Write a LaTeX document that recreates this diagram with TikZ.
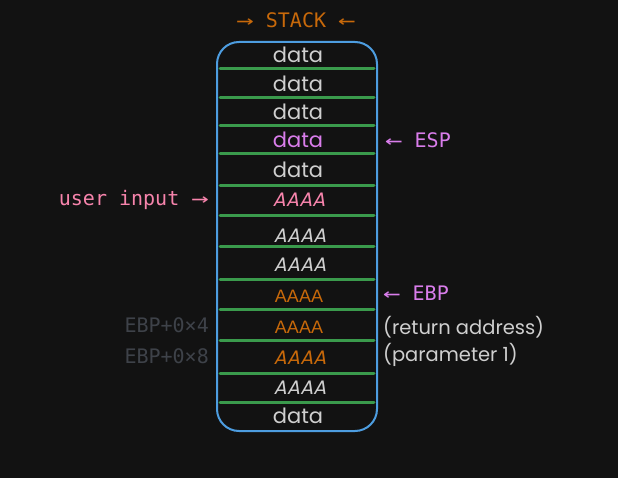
\documentclass[tikz,border=0pt]{standalone}
\usepackage{fontspec}
\setmainfont{Poppins}
\newfontfamily\mono{DejaVu Sans Mono}
\newfontfamily\hand{Poppins}
\newfontfamily\handit[FakeSlant=0.22]{Poppins}
\newfontfamily\plain{Liberation Sans}
\definecolor{bg}{HTML}{121212}
\definecolor{boxblue}{HTML}{4D9DE0}
\definecolor{sep}{HTML}{3A9A4C}
\definecolor{txt}{HTML}{CFCFCF}
\definecolor{org}{HTML}{C8690A}
\definecolor{pink}{HTML}{F784AC}
\definecolor{violet}{HTML}{D97DEB}
\definecolor{dim}{HTML}{3E4249}
% wide pointer arrows for the labels
\newcommand{\ptrR}{\scalebox{1.45}[1]{→}}
\newcommand{\ptrL}{\scalebox{1.45}[1]{←}}
\begin{document}
\begin{tikzpicture}[x=1pt,y=-1pt,
  cell/.style={font=\hand\fontsize{21}{21}\selectfont, text=txt, inner sep=0pt},
  cellit/.style={font=\handit\fontsize{19.5}{19.5}\selectfont, text=txt, inner sep=0pt},
  cellplain/.style={font=\plain\fontsize{18}{18}\selectfont, text=org, inner sep=0pt},
  lbl/.style={font=\mono\fontsize{20}{20}\selectfont, inner sep=0pt},
  note/.style={font=\hand\fontsize{19.5}{19.5}\selectfont, text=txt, inner sep=0pt, anchor=west},
  divider/.style={draw=sep, line width=3pt, line cap=round}]
\fill[bg] (0,0) rectangle (618,478);
\useasboundingbox (0,0) rectangle (618,478);

% title
\node[lbl, text=org] (title) at (296,20) {\ptrR{} STACK \ptrL};

% stack frame
\draw[boxblue, line width=2pt, rounded corners=22pt] (217,42) rectangle (377,431);
\node[inner sep=0pt, minimum width=160pt, minimum height=389pt] (stack) at (297,236.5) {};

% separators between the slots
\foreach \y in {69,98,126,154,186,216,247,279,309,340,373,402}
  \draw[divider] (220,\y) -- (374,\y);

% slot contents, top to bottom
\node[cell] (s1) at (298,55) {data};
\node[cell] (s2) at (298,84) {data};
\node[cell] (s3) at (298,112) {data};
\node[cell, text=violet] (s4) at (298,140) {data};
\node[cell] (s5) at (298,170) {data};
\node[cellit, text=pink] (s6) at (299,200) {AAAA};
\node[cellit] (s7) at (300,236) {AAAA};
\node[cellit] (s8) at (300,265) {AAAA};
\node[cellplain] (s9) at (299,296) {AAAA};
\node[cellplain] (s10) at (299,327) {AAAA};
\node[cellit, text=org] (s11) at (300,358) {AAAA};
\node[cellit] (s12) at (300,388) {AAAA};
\node[cell] (s13) at (298,416) {data};

% pointers and annotations
\node[lbl, text=violet, anchor=west] (esp) at (385,140) {\ptrL{} ESP};
\node[lbl, text=violet, anchor=west] (ebp) at (383,293) {\ptrL{} EBP};
\node[lbl, text=pink, anchor=east] (input) at (209,200) {user input \ptrR};
\node[lbl, text=dim, anchor=east] (off4) at (209,325) {EBP+0×4};
\node[lbl, text=dim, anchor=east] (off8) at (209,356) {EBP+0×8};
\node[note] (ret) at (383,327) {(return address)};
\node[note] (par) at (383,355) {(parameter 1)};
\end{tikzpicture}
\end{document}
